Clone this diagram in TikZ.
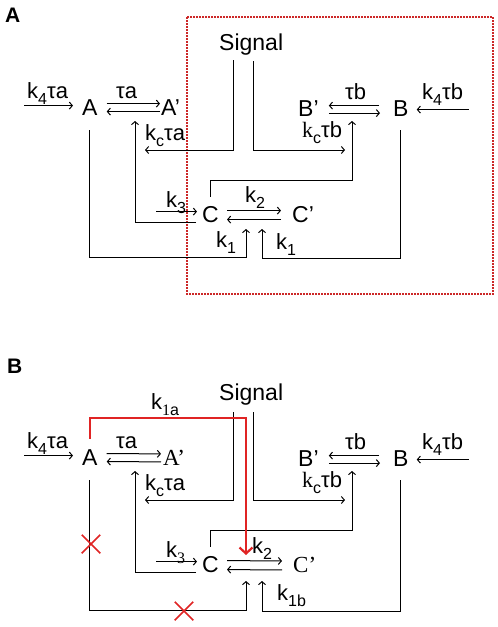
\documentclass[tikz,border=0pt]{standalone}
\usepackage{fontspec}
\setmainfont{Liberation Sans}
\newfontfamily\rmserif{Liberation Serif}
\usetikzlibrary{arrows.meta,shapes.misc}
\definecolor{redline}{RGB}{224,36,36}
\definecolor{boxred}{RGB}{204,40,40}
\newcommand\lowsub[1]{\raisebox{-0.28em}{\fontsize{16}{18}\selectfont #1}}

\begin{document}
\begin{tikzpicture}[x=1pt,y=-1pt,
  sp/.style={inner sep=0pt,anchor=base west,font=\fontsize{23}{27}\selectfont},
  spr/.style={sp,font=\fontsize{23}{27}\selectfont\rmserif},
  rate/.style={inner sep=0pt,anchor=base west,font=\fontsize{22}{26}\selectfont},
  panel/.style={inner sep=0pt,anchor=base west,font=\fontsize{21}{25}\selectfont\bfseries},
  ar/.style={-{Straight Barb[length=3pt,width=7pt]},line width=1pt},
  inh/.style={-{Straight Barb[length=6pt,width=13pt]},line width=2.2pt,draw=redline},
  cut/.style={draw=redline,cross out,line width=1.5pt,minimum size=17pt,inner sep=0pt}]
\useasboundingbox (0,0) rectangle (498,627);

% ---- panel A ----
\node[panel] (pa) at (5,22) {A};
\draw[boxred,line width=2pt,dash pattern=on 1.6pt off 1.4pt] (187,17) rectangle (493,294);
\node[sp] (sigA) at (219,50) {Signal};
\node[sp] (A) at (82,115) {A};
\node[sp] (Ap) at (161,115) {A’};
\node[sp] (Bp) at (298,116) {B’};
\node[sp] (B) at (393,116) {B};
\node[sp] (C) at (202,222) {C};
\node[sp] (Cp) at (292,222) {C’};
\coordinate (kcaT) at (145,150);
\coordinate (kcbT) at (345,150);
\coordinate (ctA) at (135,121);
\coordinate (ctB) at (352,121);
\coordinate (k1L) at (246,229);
\coordinate (k1R) at (262,229);

\draw[ar] ([xshift=-58pt,yshift=1.5pt]A.west) -- ([xshift=-9pt,yshift=1.5pt]A.west);
\draw[ar] ([xshift=9pt,yshift=3.5pt]A.east) -- ([xshift=-1pt,yshift=3.5pt]Ap.west);
\draw[ar] ([xshift=-1pt,yshift=-4.5pt]Ap.west) -- ([xshift=9pt,yshift=-4.5pt]A.east);
\draw[ar] ([xshift=-14pt,yshift=2.5pt]B.west) -- ([xshift=10pt,yshift=2.5pt]Bp.east);
\draw[ar] ([xshift=10pt,yshift=-5pt]Bp.east) -- ([xshift=-13pt,yshift=-5pt]B.west);
\draw[ar] ([xshift=60pt,yshift=-1.5pt]B.east) -- ([xshift=8pt,yshift=-1.5pt]B.east);
\draw[ar] ([xshift=14pt,yshift=-10pt]sigA.base west) |- (kcaT);
\draw[ar] ([xshift=34pt,yshift=-11pt]sigA.base west) |- (kcbT);
\draw[ar] ([xshift=-46pt,yshift=2.5pt]C.west) -- ([xshift=-5pt,yshift=2.5pt]C.west);
\draw[ar] ([xshift=8pt,yshift=3.5pt]C.east) -- ([xshift=-11pt,yshift=3.5pt]Cp.west);
\draw[ar] ([xshift=-11pt,yshift=-5.5pt]Cp.west) -- ([xshift=8pt,yshift=-5.5pt]C.east);
\draw[ar] ([xshift=-6pt]C.base west) -| (ctA);
\draw[ar] ([yshift=9pt]C.north) -- ++(0,-16) -| (ctB);
\draw[ar] ([yshift=-15pt]A.south) -- ++(0,127) -| (k1L);
\draw[ar] ([yshift=-14pt]B.south) -- ++(0,128) -| (k1R);

\node[rate] (k4a) at (27,98) {k\lowsub{4}τa};
\node[rate] (ta) at (116,98) {τa};
\node[rate] (kca) at (145,140) {k\lowsub{c}τa};
\node[rate] (tb) at (345,99) {τb};
\node[rate] (k4b) at (422,99) {k\lowsub{4}τb};
\node[rate] (kcb) at (302,137) {{\rmserif k}\lowsub{c}τb};
\node[rate] (k3) at (166,207) {k\lowsub{3}};
\node[rate] (k2) at (245,202) {k\lowsub{2}};
\node[rate] (k1l) at (216,247) {k\lowsub{1}};
\node[rate] (k1r) at (276,249) {k\lowsub{1}};

% ---- panel B ----
\node[panel] (pb) at (7,373) {B};
\node[sp] (sigB) at (219,400) {Signal};
\node[sp] (A2) at (82,465) {A};
\node[spr] (Ap2) at (163,465) {A’};
\node[sp] (Bp2) at (298,466) {B’};
\node[sp] (B2) at (393,466) {B};
\node[sp] (C2) at (202,572) {C};
\node[spr] (Cp2) at (293,572) {C’};
\coordinate (kcaT2) at (145,500);
\coordinate (kcbT2) at (345,500);
\coordinate (ctA2) at (135,471);
\coordinate (ctB2) at (352,471);
\coordinate (k1L2) at (246,581);
\coordinate (k1R2) at (262,581);
\coordinate (redT) at (246,555);

\draw[ar] ([xshift=-58pt,yshift=1.5pt]A2.west) -- ([xshift=-9pt,yshift=1.5pt]A2.west);
\draw[ar] ([xshift=9pt,yshift=3.5pt]A2.east) -- ([xshift=-2pt,yshift=3.5pt]Ap2.west);
\draw[ar] ([xshift=-2pt,yshift=-4.5pt]Ap2.west) -- ([xshift=9pt,yshift=-4.5pt]A2.east);
\draw[ar] ([xshift=-14pt,yshift=2.5pt]B2.west) -- ([xshift=10pt,yshift=2.5pt]Bp2.east);
\draw[ar] ([xshift=10pt,yshift=-5pt]Bp2.east) -- ([xshift=-13pt,yshift=-5pt]B2.west);
\draw[ar] ([xshift=60pt,yshift=-1.5pt]B2.east) -- ([xshift=8pt,yshift=-1.5pt]B2.east);
\draw[ar] ([xshift=14pt,yshift=-12pt]sigB.base west) |- (kcaT2);
\draw[ar] ([xshift=34pt,yshift=-12pt]sigB.base west) |- (kcbT2);
\draw[ar] ([xshift=-46pt,yshift=2.5pt]C2.west) -- ([xshift=-5pt,yshift=2.5pt]C2.west);
\draw[ar] ([xshift=8pt,yshift=3.5pt]C2.east) -- ([xshift=-11pt,yshift=3.5pt]Cp2.west);
\draw[ar] ([xshift=-11pt,yshift=-5.5pt]Cp2.west) -- ([xshift=8pt,yshift=-5.5pt]C2.east);
\draw[ar] ([xshift=-6pt]C2.base west) -| (ctA2);
\draw[ar] ([yshift=9pt]C2.north) -- ++(0,-16) -| (ctB2);
\draw[ar] ([yshift=-15pt]A2.south) -- ++(0,130) -| (k1L2);
\draw[ar] ([yshift=-14pt]B2.south) -- ++(0,131) -| (k1R2);

\node[rate] (k4a2) at (27,448) {k\lowsub{4}τa};
\node[rate] (ta2) at (116,448) {τa};
\node[rate] (kca2) at (145,490) {k\lowsub{c}τa};
\node[rate] (tb2) at (345,449) {τb};
\node[rate] (k4b2) at (422,449) {k\lowsub{4}τb};
\node[rate] (kcb2) at (302,487) {{\rmserif k}\lowsub{c}τb};
\node[rate] (k32) at (166,557) {k\lowsub{\rmserif 3}};
\node[rate] (k22) at (252,553) {k\lowsub{2}};
\node[rate] (k1a) at (151,409) {k\lowsub{{\rmserif 1}a}};
\node[rate] (k1b) at (277,600) {k\lowsub{1b}};

% knocked-out routes
\draw[inh] ([yshift=10pt]A2.north) -- ++(0,-21) -| (redT);
\node[cut] (x1) at (91,544) {};
\node[cut] (x2) at (184,611) {};
\end{tikzpicture}
\end{document}
